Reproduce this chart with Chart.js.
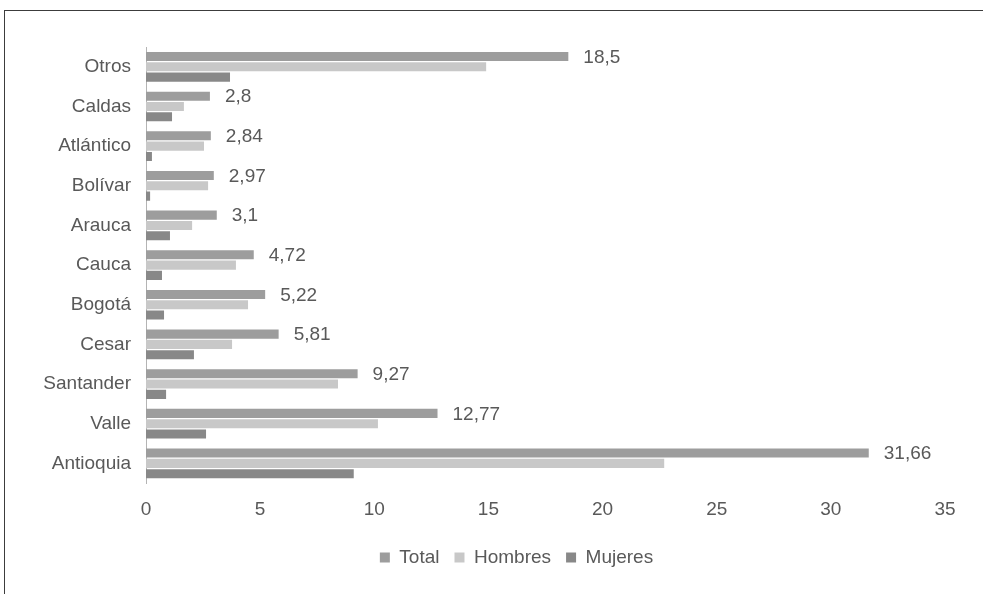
<!DOCTYPE html>
<html lang="es">
<head>
<meta charset="utf-8">
<title>Distribución por departamento</title>
<script src="https://cdn.jsdelivr.net/npm/chart.js@4"></script>
<style>
  html, body { margin: 0; padding: 0; background: #fff; overflow: hidden; }
  #wrap { position: relative; width: 983px; height: 594px; }
  #marco {
    position: absolute; left: 4px; top: 10px; right: -20px; bottom: -20px;
    border-top: 1px solid #3c3c3c; border-left: 1px solid #3c3c3c;
  }
  canvas { position: absolute; left: 0; top: 0; }
</style>
</head>
<body>
<div id="wrap">
  <div id="marco"></div>
  <canvas id="grafico" width="983" height="594"></canvas>
</div>
<script>
const departamentos = ["Otros", "Caldas", "Atlántico", "Bolívar", "Arauca", "Cauca", "Bogotá", "Cesar", "Santander", "Valle", "Antioquia"];
const total = [18.5, 2.8, 2.84, 2.97, 3.1, 4.72, 5.22, 5.81, 9.27, 12.77, 31.66];
const hombres = [14.9, 1.66, 2.54, 2.72, 2.02, 3.94, 4.47, 3.77, 8.41, 10.16, 22.7];
const mujeres = [3.68, 1.14, 0.26, 0.18, 1.05, 0.7, 0.79, 2.1, 0.88, 2.63, 9.1];
const ticksX = [0, 5, 10, 15, 20, 25, 30, 35];

const fuente = "'Liberation Sans', Arial, sans-serif";
const gris = "#595959";
const tam = 19;

// etiquetas de valor a la derecha de las barras de Total
const etiquetasTotal = {
  id: "etiquetasTotal",
  afterDatasetsDraw(chart) {
    const { ctx } = chart;
    const meta = chart.getDatasetMeta(0);
    ctx.save();
    ctx.font = tam + "px " + fuente;
    ctx.fillStyle = gris;
    ctx.textAlign = "left";
    ctx.textBaseline = "middle";
    meta.data.forEach((bar, i) => {
      const txt = String(total[i]).replace(".", ",");
      ctx.fillText(txt, bar.x + 15, bar.y + 1);
    });
    ctx.restore();
  },
};

// la leyenda va centrada bajo el área de barras, no bajo todo el lienzo
const leyendaCorrida = {
  id: "leyendaCorrida",
  afterLayout(chart) {
    const lg = chart.legend;
    if (!lg) return;
    lg.left += 44;
    lg.right += 44;
  },
};

Chart.defaults.font.family = fuente;
Chart.defaults.color = gris;

new Chart(document.getElementById("grafico"), {
  type: "bar",
  data: {
    labels: departamentos,
    datasets: [
      { label: "Total", data: total, backgroundColor: "#9d9d9d" },
      { label: "Hombres", data: hombres, backgroundColor: "#c8c8c8" },
      { label: "Mujeres", data: mujeres, backgroundColor: "#888888" },
    ],
  },
  options: {
    indexAxis: "y",
    responsive: false,
    animation: false,
    categoryPercentage: 0.78,
    barPercentage: 0.88,
    layout: { padding: { top: 47, right: 38, left: 0, bottom: 17 } },
    scales: {
      x: {
        min: 0,
        max: 35,
        afterBuildTicks: (axis) => { axis.ticks = ticksX.map((v) => ({ value: v })); },
        afterFit: (axis) => { axis.height += 5; },
        grid: { display: false },
        border: { display: false },
        ticks: { font: { size: tam }, color: gris, padding: 7 },
      },
      y: {
        grid: { display: false, drawTicks: false },
        border: { display: true, color: "#b4b4b4", width: 1 },
        ticks: { font: { size: tam }, color: gris, padding: 15 },
        afterFit: (axis) => { axis.width = 146; },
      },
    },
    plugins: {
      legend: {
        position: "bottom",
        labels: { boxWidth: 10, boxHeight: 10, font: { size: tam }, color: gris, padding: 15 },
      },
      tooltip: { enabled: false },
    },
  },
  plugins: [etiquetasTotal, leyendaCorrida],
});
</script>
</body>
</html>
